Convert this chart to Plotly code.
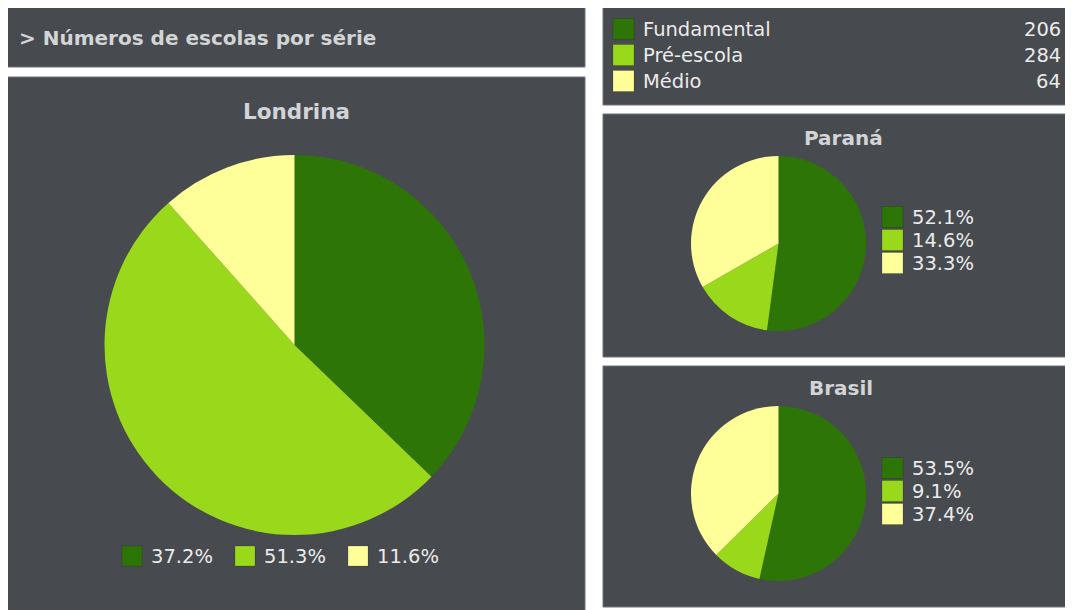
import plotly.graph_objects as go

# Page body has an 8px margin; the figure is sized/offset to fit the 1073x610 window.
OFF = 8
W, H = 1073, 610
FW, FH = W - OFF, H - OFF

categories = ["Fundamental", "Pré-escola", "Médio"]
colors = ["#2e7507", "#99d81a", "#ffff99"]
londrina_counts = [206, 284, 64]
londrina_pct = ["37.2%", "51.3%", "11.6%"]
parana_pct = [52.1, 14.6, 33.3]
brasil_pct = [53.5, 9.1, 37.4]
header_title = "> Números de escolas por série"

PANEL = "#474a4e"
BORDER = "#6e7174"
TITLE_C = "#d2d4d6"
TEXT_C = "#ebebeb"
FONT = "DejaVu Sans"


def dom_x(a, b):
    return [(a - OFF) / FW, (b - OFF) / FW]


def dom_y(top, bottom):
    return [1 - (bottom - OFF) / FH, 1 - (top - OFF) / FH]


fig = go.Figure()

pie_common = dict(sort=False, direction="clockwise", rotation=0, textinfo="none",
                  showlegend=False, marker=dict(colors=colors, line=dict(width=0)),
                  hovertemplate="%{label}: %{percent}<extra></extra>")

fig.add_trace(go.Pie(labels=categories, values=londrina_counts, name="Londrina",
                     domain=dict(x=dom_x(104.5, 484.5), y=dom_y(155, 535)), **pie_common))
fig.add_trace(go.Pie(labels=categories, values=parana_pct, name="Paraná",
                     domain=dict(x=dom_x(691, 866), y=dom_y(156, 331)), **pie_common))
fig.add_trace(go.Pie(labels=categories, values=brasil_pct, name="Brasil",
                     domain=dict(x=dom_x(691, 866), y=dom_y(406, 581)), **pie_common))

shapes = []
for (x0, y0, x1, y1) in [(7, 7, 585, 67), (7, 77, 585, 612), (603, 7, 1075, 105),
                         (603, 114, 1075, 357), (603, 366, 1075, 607)]:
    shapes.append(dict(type="rect", xref="x", yref="y", x0=x0, y0=y0, x1=x1, y1=y1,
                       fillcolor=PANEL, line=dict(color=BORDER, width=1), layer="below"))

annotations = []


def text(x, y, s, size, color, bold=False, xanchor="left"):
    annotations.append(dict(x=x, y=y, xref="x", yref="y", text=("<b>%s</b>" % s) if bold else s,
                            showarrow=False, xanchor=xanchor, yanchor="middle",
                            font=dict(family=FONT, size=size, color=color)))


def swatch(x, y, c, s=20):
    shapes.append(dict(type="rect", xref="x", yref="y", x0=x, y0=y - s / 2, x1=x + s, y1=y + s / 2,
                       fillcolor=c, line=dict(color="rgba(0,0,0,0.15)", width=1), layer="above"))


text(17, 38, header_title, 20, TITLE_C, bold=True)
text(296, 111, "Londrina", 21.5, TITLE_C, bold=True, xanchor="center")
text(843, 138, "Paraná", 20, TITLE_C, bold=True, xanchor="center")
text(841, 388, "Brasil", 20, TITLE_C, bold=True, xanchor="center")

for i, (cat, val) in enumerate(zip(categories, londrina_counts)):
    y = 29 + i * 26
    swatch(613, y, colors[i], 21)
    text(641, y, cat, 19.5, TEXT_C)
    text(1063, y, str(val), 19.5, TEXT_C, xanchor="right")

for i, p in enumerate(londrina_pct):
    x = 122 + i * 113
    swatch(x, 556, colors[i], 20)
    text(x + 27, 556, p, 19.5, TEXT_C)

for vals, y0 in [(parana_pct, 217), (brasil_pct, 468)]:
    for i, v in enumerate(vals):
        y = y0 + i * 23
        swatch(882, y, colors[i], 21)
        text(910, y, "%.1f%%" % v, 19.5, TEXT_C)

fig.update_layout(
    width=FW, height=FH, margin=dict(l=0, r=0, t=0, b=0),
    paper_bgcolor="white", plot_bgcolor="white",
    xaxis=dict(range=[OFF, W], visible=False, domain=[0, 1], fixedrange=True),
    yaxis=dict(range=[H, OFF], visible=False, domain=[0, 1], fixedrange=True),
    shapes=shapes, annotations=annotations, showlegend=False,
    font=dict(family=FONT),
)

fig.write_html("out.html")
